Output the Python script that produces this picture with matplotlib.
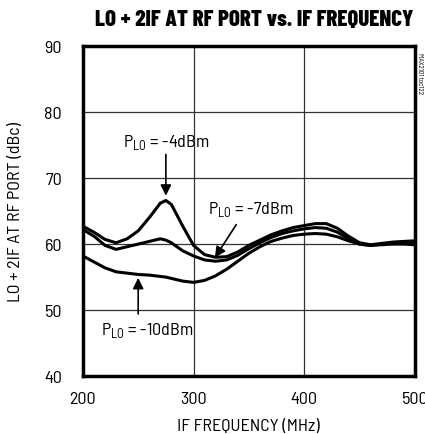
import matplotlib
matplotlib.use("Agg")
import matplotlib.pyplot as plt

# IF frequency (MHz)
freq = [200, 210, 220, 230, 240, 250, 260, 270, 275, 280, 290, 300, 310, 320, 330,
        340, 350, 360, 370, 380, 390, 400, 410, 420, 430, 440, 450, 460, 470, 480, 490, 500]

# LO + 2IF at RF port (dBc) for each LO drive
plo_m4 = [62.7, 61.8, 60.7, 60.2, 60.8, 62.0, 64.0, 66.2, 66.6, 66.0, 62.8, 59.8, 58.4, 58.0, 58.1,
          58.8, 59.8, 60.6, 61.4, 62.0, 62.5, 62.8, 63.1, 63.1, 62.4, 61.2, 60.2, 59.9, 60.1, 60.3, 60.4, 60.5]
plo_m7 = [62.2, 61.2, 59.8, 59.2, 59.6, 60.0, 60.4, 60.8, 60.6, 60.2, 59.0, 58.2, 57.6, 57.4, 57.6,
          58.3, 59.3, 60.2, 61.0, 61.6, 62.0, 62.3, 62.5, 62.4, 61.8, 60.8, 60.0, 59.8, 60.0, 60.2, 60.3, 60.2]
plo_m10 = [58.2, 57.3, 56.4, 55.8, 55.6, 55.4, 55.3, 55.1, 55.0, 54.8, 54.4, 54.2, 54.5, 55.2, 56.2,
           57.4, 58.6, 59.6, 60.4, 60.9, 61.3, 61.5, 61.6, 61.5, 61.1, 60.5, 60.0, 59.8, 59.9, 60.0, 60.0, 59.9]

xticks = [200, 300, 400, 500]
yticks = [40, 50, 60, 70, 80, 90]

body = 'Barlow Semi Condensed'
plt.rcParams['font.family'] = [body, 'Liberation Sans', 'DejaVu Sans']
plt.rcParams['mathtext.fontset'] = 'custom'
plt.rcParams['mathtext.rm'] = body

fig = plt.figure(figsize=(4.25, 4.35), dpi=100)
ax = fig.add_axes([0.195, 0.133, 0.781, 0.759])

for yy in plo_m4, plo_m7, plo_m10:
    ax.plot(freq, yy, color='black', lw=2.2, solid_capstyle='butt')

ax.set_xlim(200, 500)
ax.set_ylim(40, 90)
ax.set_xticks(xticks)
ax.set_yticks(yticks)
ax.grid(True, color='#333333', lw=0.9)
ax.tick_params(length=0, labelsize=13)
ax.tick_params(axis='y', pad=15)
ax.tick_params(axis='x', pad=11)
for s in ax.spines.values():
    s.set_linewidth(2.5)
ax.set_xlabel("IF FREQUENCY (MHz)", fontsize=13, labelpad=8)
ax.set_ylabel("LO + 2IF AT RF PORT (dBc)", fontsize=13, labelpad=15)
fig.suptitle("LO + 2IF AT RF PORT vs. IF FREQUENCY", fontsize=16.5, fontweight='heavy',
             family=['Barlow Condensed', 'DejaVu Sans'], x=0.597, y=0.977)

arr = dict(arrowstyle='-|>', color='black', lw=1.2, mutation_scale=16)
ax.annotate("", xy=(275, 66.9), xytext=(275, 74.0), arrowprops=arr)
ax.text(275, 75.6, r"P$_{\mathregular{LO}}$ = -4dBm", ha='center', va='center', fontsize=13)
ax.annotate("", xy=(318, 57.6), xytext=(340, 63.3), arrowprops=arr)
ax.text(352, 65.4, r"P$_{\mathregular{LO}}$ = -7dBm", ha='center', va='center', fontsize=13)
ax.annotate("", xy=(250, 55.3), xytext=(250, 49.0), arrowprops=arr)
ax.text(258, 47.0, r"P$_{\mathregular{LO}}$ = -10dBm", ha='center', va='center', fontsize=13)

fig.text(0.987, 0.83, "MAX2101 toc122", rotation=270, fontsize=5, ha='center', va='center')

fig.savefig("out.png", dpi=100)
